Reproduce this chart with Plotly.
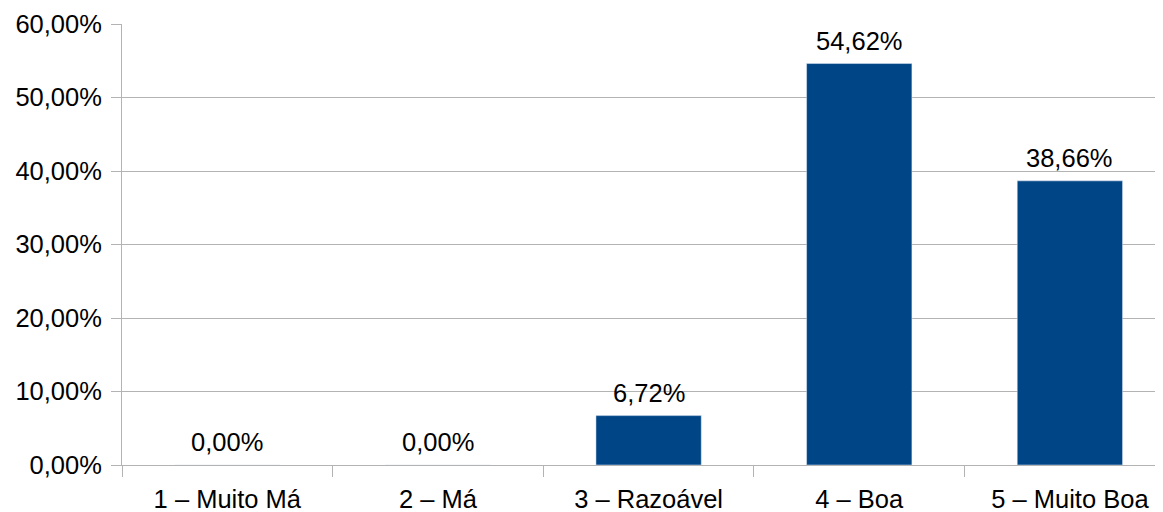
import plotly.graph_objects as go

# Avaliação — distribuição das respostas
categorias = ["1 – Muito Má", "2 – Má", "3 – Razoável", "4 – Boa", "5 – Muito Boa"]
percentuais = [0.00, 0.00, 6.72, 54.62, 38.66]
y_ticks = [0, 10, 20, 30, 40, 50, 60]


def pt_pct(v):
    return f"{v:.2f}%".replace(".", ",")


BAR_COLOR = "#004586"
GRID = "#b3b3b3"
FONT = "Liberation Sans, Arial, sans-serif"
FS = 25.5

fig = go.Figure()
fig.add_trace(go.Bar(
    x=categorias, y=percentuais,
    marker_color=BAR_COLOR, width=0.5,
    showlegend=False, hoverinfo="x+y",
))

# rótulos de dados acima das barras
for cat, val in zip(categorias, percentuais):
    fig.add_annotation(
        x=cat, y=val, text=pt_pct(val), showarrow=False,
        yanchor="middle", yshift=23,
        font=dict(size=FS, color="#000000", family=FONT),
    )

# a página tem margem de 8px no body: compensado nas margens
fig.update_layout(
    width=1163, height=512,
    margin=dict(l=114, r=0, t=16, b=55, autoexpand=False),
    paper_bgcolor="white", plot_bgcolor="white",
    font=dict(family=FONT, size=FS, color="#000000"),
)
fig.update_xaxes(
    range=[-0.5, 4.48], automargin=False,
    showline=True, linecolor=GRID, linewidth=1,
    ticks="outside", tickson="boundaries", ticklen=11, tickcolor=GRID,
    ticklabelstandoff=11,
    showgrid=False,
    tickfont=dict(size=FS, color="#000000"),
)
fig.update_yaxes(
    range=[0, 60], automargin=False,
    tickvals=y_ticks, ticktext=[pt_pct(v) for v in y_ticks],
    showgrid=True, gridcolor=GRID, gridwidth=1,
    showline=True, linecolor=GRID, linewidth=1,
    ticks="outside", ticklen=10, tickcolor=GRID, ticklabelstandoff=4,
    zeroline=False,
    tickfont=dict(size=FS, color="#000000"),
)

fig.write_html("out.html")
